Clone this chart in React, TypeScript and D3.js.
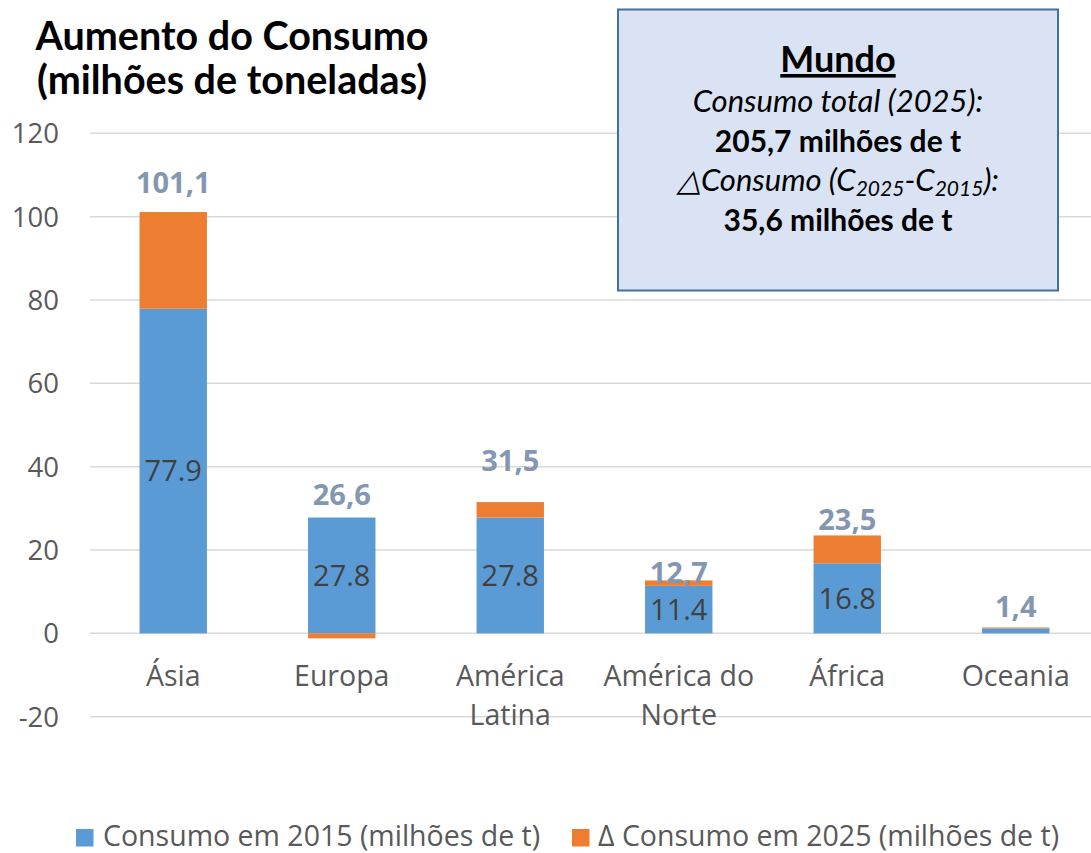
import React, { useEffect } from "react";
import * as d3 from "d3";

const categories = ["Ásia", "Europa", "América Latina", "América do Norte", "África", "Oceania"];
const categoryLines = [["Ásia"], ["Europa"], ["América", "Latina"], ["América do", "Norte"], ["África"], ["Oceania"]];
const consumo2015 = [77.9, 27.8, 27.8, 11.4, 16.8, 1.2];
const delta2025 = [23.2, -1.2, 3.7, 1.3, 6.7, 0.2];
const yTicks = [-20, 0, 20, 40, 60, 80, 100, 120];
const seriesNames = ["Consumo em 2015 (milhões de t)", "Δ Consumo em 2025 (milhões de t)"];

const W = 1091;
const H = 853;
const BLUE = "#5B9BD5";
const ORANGE = "#ED7D31";
const AXIS_FONT = "'Open Sans', sans-serif";
const TITLE_FONT = "Lato, 'Open Sans', sans-serif";
// vertical lift (px) of each total label above its bar top, as placed in the original
const labelLift = [29, 23, 42, 8, 16, 21];

export default function App() {
  useEffect(() => {
    document.body.style.margin = "0";
  }, []);

  const x = d3.scaleBand<string>().domain(categories).range([89, 1100]).paddingInner(0.6).paddingOuter(0.3);
  const y = d3.scaleLinear().domain([-20, 120]).range([716.7, 133.3]);

  const rows = categories.map((c, i) => ({ cat: c, a: consumo2015[i], b: delta2025[i] }));
  const stack = d3.stack<any>().keys(["a", "b"]).offset(d3.stackOffsetDiverging);
  const layers = stack(rows);
  const colors = [BLUE, ORANGE];

  const fmtComma = (v: number) => d3.format(".1f")(v).replace(".", ",");
  const cx = (i: number) => (x(categories[i]) as number) + x.bandwidth() / 2;

  return (
    <svg width={W} height={H} style={{ display: "block", background: "#fff" }}>
      {/* gridlines */}
      {yTicks.map((t) => (
        <line key={t} x1={90} x2={W} y1={y(t)} y2={y(t)} stroke="#D9D9D9" strokeWidth={1.5} />
      ))}
      {/* y tick labels */}
      {yTicks.map((t) => (
        <text key={"yt" + t} x={59} y={y(t)} dy="0.36em" textAnchor="end" fontFamily={AXIS_FONT} fontSize={27.5} fill="#595959">
          {t}
        </text>
      ))}
      {/* bars */}
      {layers.map((layer, li) =>
        layer.map((d, i) => (
          <rect
            key={li + "-" + i}
            x={x(categories[i])}
            width={x.bandwidth()}
            y={y(Math.max(d[0], d[1]))}
            height={Math.abs(y(d[0]) - y(d[1]))}
            fill={colors[li]}
          />
        ))
      )}
      {/* blue segment labels */}
      {consumo2015.map((v, i) =>
        v > 5 ? (
          <text
            key={"bl" + i}
            x={cx(i)}
            y={(y(0) + y(v)) / 2}
            dy="0.36em"
            textAnchor="middle"
            fontFamily={AXIS_FONT}
            fontSize={29}
            fill="#404040"
          >
            {v.toFixed(1)}
          </text>
        ) : null
      )}
      {/* total labels */}
      {consumo2015.map((v, i) => {
        const total = v + delta2025[i];
        const top = y(Math.max(v, total));
        return (
          <text
            key={"tl" + i}
            x={cx(i)}
            y={top - labelLift[i]}
            dy="0.36em"
            textAnchor="middle"
            fontFamily={AXIS_FONT}
            fontWeight="bold"
            fontSize={29}
            fill="#8497B0"
          >
            {fmtComma(total)}
          </text>
        );
      })}
      {/* category labels */}
      {categoryLines.map((lines, i) => (
        <text key={"cl" + i} x={cx(i)} y={686} textAnchor="middle" fontFamily={AXIS_FONT} fontSize={28.5} fill="#595959">
          {lines.map((l, j) => (
            <tspan key={j} x={cx(i)} dy={j === 0 ? 0 : 39}>
              {l}
            </tspan>
          ))}
        </text>
      ))}
      {/* title */}
      <text x={232} y={50} textAnchor="middle" fontFamily={TITLE_FONT} fontWeight="bold" fontSize={39.5} fill="#000">
        Aumento do Consumo
      </text>
      <text x={232} y={94} textAnchor="middle" fontFamily={TITLE_FONT} fontWeight="bold" fontSize={39.5} fill="#000">
        (milhões de toneladas)
      </text>
      {/* world box */}
      <rect x={618} y={9.5} width={440} height={281} fill="#DAE3F3" stroke="#41719C" strokeWidth={2} />
      <g fontFamily={TITLE_FONT} textAnchor="middle" fill="#000">
        <text x={838} y={72} fontWeight="bold" fontSize={36} textDecoration="underline">
          Mundo
        </text>
        <text x={838} y={112} fontStyle="italic" fontSize={31}>
          Consumo total (2025):
        </text>
        <text x={838} y={152} fontWeight="bold" fontSize={30}>
          205,7 milhões de t
        </text>
        <text x={838} y={191} fontStyle="italic" fontSize={31}>
          △Consumo (C<tspan fontSize={21} dy={5}>2025</tspan>
          <tspan dy={-5}>-C</tspan>
          <tspan fontSize={21} dy={5}>2015</tspan>
          <tspan dy={-5}>):</tspan>
        </text>
        <text x={838} y={231} fontWeight="bold" fontSize={30}>
          35,6 milhões de t
        </text>
      </g>
      {/* legend */}
      <rect x={76} y={829} width={17.5} height={17.5} fill={BLUE} />
      <text x={103} y={846} fontFamily={AXIS_FONT} fontSize={28.5} fill="#595959">
        {seriesNames[0]}
      </text>
      <rect x={572} y={829} width={17.5} height={17.5} fill={ORANGE} />
      <text x={598} y={846} fontFamily={AXIS_FONT} fontSize={28.5} fill="#595959">
        {seriesNames[1]}
      </text>
    </svg>
  );
}
